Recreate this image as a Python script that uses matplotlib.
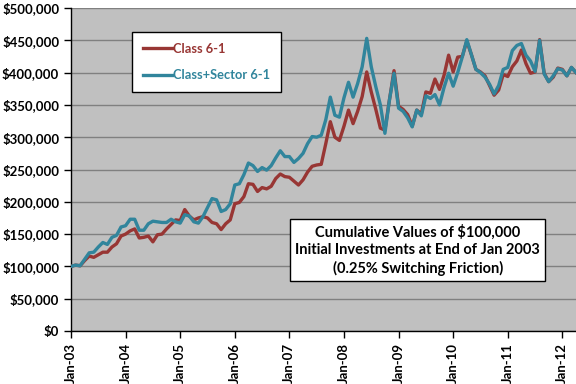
import numpy as np
import matplotlib.pyplot as plt
from matplotlib.ticker import FuncFormatter

# Monthly values ($ thousands), Jan-03 .. Apr-12
class_61 = [100, 102, 101, 109, 116, 114, 118, 122, 122, 130, 135, 147,
            150, 155, 158, 144, 145, 147, 138, 149, 150, 158, 165, 172,
            171, 188, 178, 172, 175, 177, 175, 168, 166, 157, 166, 172,
            197, 199, 208, 228, 227, 216, 222, 220, 224, 236, 243, 239,
            238, 232, 226, 234, 246, 255, 257, 258, 290, 324, 300, 295,
            317, 342, 321, 340, 363, 401, 370, 343, 314, 311, 358, 403,
            348, 343, 335, 317, 342, 336, 370, 368, 390, 374, 396, 427,
            401, 424, 425, 449, 428, 405, 401, 395, 380, 365, 373, 397,
            394, 409, 418, 435, 414, 399, 401, 451, 399, 386, 393, 407,
            405, 395, 408, 400]
class_sector_61 = [100, 102, 101, 111, 121, 122, 130, 137, 134, 145, 148, 161,
                   163, 173, 173, 156, 156, 166, 170, 169, 168, 168, 173, 169,
                   167, 180, 178, 169, 167, 177, 191, 205, 203, 185, 188, 197,
                   226, 228, 242, 260, 256, 247, 253, 249, 256, 268, 279, 270,
                   270, 261, 267, 275, 290, 301, 300, 303, 327, 362, 334, 331,
                   361, 385, 362, 383, 409, 453, 409, 378, 350, 306, 358, 399,
                   345, 340, 330, 316, 342, 333, 364, 360, 366, 350, 377, 399,
                   379, 400, 424, 451, 428, 405, 400, 393, 382, 367, 380, 405,
                   408, 434, 442, 445, 427, 418, 402, 450, 398, 386, 395, 406,
                   404, 395, 408, 400]
year_labels = ["Jan-03", "Jan-04", "Jan-05", "Jan-06", "Jan-07",
               "Jan-08", "Jan-09", "Jan-10", "Jan-11", "Jan-12"]

RED = "#983634"
TEAL = "#31859C"
FONT = "Lato"

months = np.arange(len(class_61))

fig = plt.figure(figsize=(5.76, 3.84), dpi=100)
ax = fig.add_axes([71 / 576, 53 / 384, 505 / 576, 323 / 384])
ax.set_facecolor("#C0C0C0")

ax.plot(months, np.array(class_61) * 1000, color=RED, lw=2.4, label="Class 6-1", zorder=3)
ax.plot(months, np.array(class_sector_61) * 1000, color=TEAL, lw=2.4,
        label="Class+Sector 6-1", zorder=4)

ax.set_xlim(0, len(months) - 1)
ax.set_ylim(0, 500000)
ax.set_yticks(np.arange(0, 500001, 50000))
ax.yaxis.set_major_formatter(FuncFormatter(lambda v, p: "${:,.0f}".format(v)))
ax.set_xticks(np.arange(len(year_labels)) * 12)
ax.set_xticklabels(year_labels, rotation=90)
ax.grid(axis="y", color="#808080", lw=1.0)
ax.set_axisbelow(True)

for s in ["top", "right"]:
    ax.spines[s].set_visible(False)
for s in ["left", "bottom"]:
    ax.spines[s].set_color("black")
    ax.spines[s].set_linewidth(1.0)
ax.tick_params(direction="out", length=5, width=1, color="black")
for lab in ax.get_xticklabels() + ax.get_yticklabels():
    lab.set_fontfamily(FONT)
    lab.set_fontweight("bold")
    lab.set_fontsize(9.5)

leg = ax.legend(loc="upper left", bbox_to_anchor=(0.121, 0.926), borderaxespad=0,
                fancybox=False, framealpha=1, edgecolor="black", handlelength=2.2,
                handletextpad=0.15, labelspacing=1.1, borderpad=0.85,
                prop={"family": FONT, "weight": "bold", "size": 9.3})
leg.get_frame().set_linewidth(1.0)
for txt, col in zip(leg.get_texts(), [RED, TEAL]):
    txt.set_color(col)

ax.text(0.687, 0.251,
        "Cumulative Values of $100,000\nInitial Investments at End of Jan 2003\n(0.25% Switching Friction)",
        transform=ax.transAxes, ha="center", va="center", family=FONT,
        fontweight="bold", fontsize=10.5, linespacing=1.3,
        bbox=dict(facecolor="white", edgecolor="black", lw=1.0, boxstyle="square,pad=0.35"))

plt.savefig("out.png", dpi=100)
